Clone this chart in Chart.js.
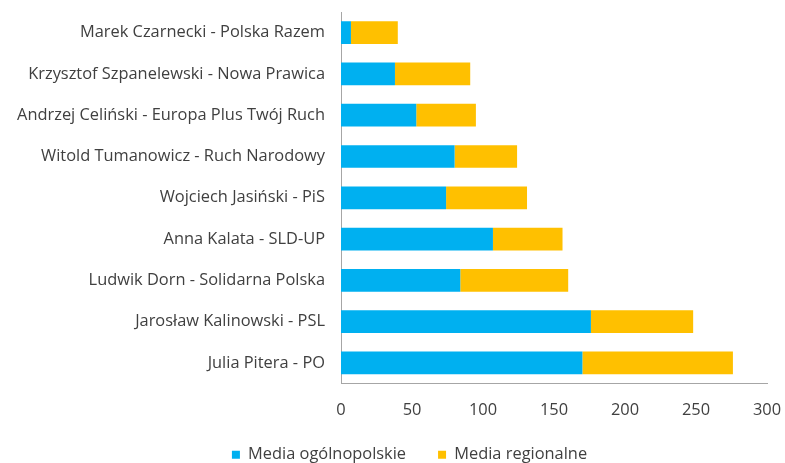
<!DOCTYPE html>
<html lang="pl">
<head>
    <meta charset="UTF-8">
    <title>Media ogólnopolskie i regionalne</title>
    <script src="https://cdn.jsdelivr.net/npm/chart.js"></script>
    <style>
        body {
            margin: 0;
            background: #ffffff;
        }

        .chart-container {
            width: 785px;
            height: 463px;
        }
    </style>
</head>
<body>

    <div class="chart-container">
        <canvas id="mediaChart"></canvas>
    </div>

    <script>
        const candidates = [
            'Marek Czarnecki - Polska Razem',
            'Krzysztof Szpanelewski - Nowa Prawica',
            'Andrzej Celiński - Europa Plus Twój Ruch',
            'Witold Tumanowicz - Ruch Narodowy',
            'Wojciech Jasiński - PiS',
            'Anna Kalata - SLD-UP',
            'Ludwik Dorn - Solidarna Polska',
            'Jarosław Kalinowski - PSL',
            'Julia Pitera - PO'
        ];
        const mediaNational = [7, 38, 53, 80, 74, 107, 84, 176, 170];
        const mediaRegional = [33, 53, 42, 44, 57, 49, 76, 72, 106];
        const xTicks = [0, 50, 100, 150, 200, 250, 300];

        const textColor = '#404040';
        const font = { family: "'Open Sans', sans-serif", size: 16.4 };

        // nudge the legend to where Excel put it, and let the x labels breathe
        const legendShift = {
            id: 'legendShift',
            afterLayout(chart) {
                const lg = chart.legend;
                lg.left += 26;
                lg.right += 26;
                lg.top += 10;
                lg.bottom += 10;
                chart.scales.x.bottom += 30;
            }
        };

        const ctx = document.getElementById('mediaChart').getContext('2d');

        new Chart(ctx, {
            type: 'bar',
            data: {
                labels: candidates,
                datasets: [
                    {
                        label: 'Media ogólnopolskie',
                        data: mediaNational,
                        backgroundColor: '#00b0f0',
                        barPercentage: 0.55,
                        categoryPercentage: 1
                    },
                    {
                        label: 'Media regionalne',
                        data: mediaRegional,
                        backgroundColor: '#ffc000',
                        barPercentage: 0.55,
                        categoryPercentage: 1
                    }
                ]
            },
            plugins: [legendShift],
            options: {
                indexAxis: 'y',
                responsive: true,
                maintainAspectRatio: false,
                animation: false,
                layout: {
                    padding: { top: 12, left: 0, right: 18, bottom: 0 }
                },
                plugins: {
                    tooltip: { enabled: false },
                    legend: {
                        position: 'bottom',
                        labels: {
                            color: textColor,
                            font: font,
                            boxWidth: 8,
                            boxHeight: 8,
                            padding: 32
                        }
                    }
                },
                scales: {
                    x: {
                        stacked: true,
                        min: 0,
                        max: 300,
                        afterBuildTicks: scale => {
                            scale.ticks = xTicks.map(v => ({ value: v }));
                        },
                        afterFit: scale => {
                            scale.height = 21;
                            scale.paddingLeft = 0;
                            scale.paddingRight = 0;
                        },
                        grid: { display: false },
                        border: { display: true, color: '#a6a6a6', width: 1 },
                        ticks: {
                            color: textColor,
                            font: font,
                            padding: 9,
                            maxRotation: 0
                        }
                    },
                    y: {
                        stacked: true,
                        afterFit: scale => {
                            scale.width = 341;
                            scale.paddingTop = 0;
                            scale.paddingBottom = 0;
                        },
                        grid: { display: false },
                        border: { display: true, color: '#a6a6a6', width: 1 },
                        ticks: {
                            color: textColor,
                            font: font,
                            padding: 8,
                            autoSkip: false
                        }
                    }
                }
            }
        });
    </script>

</body>
</html>
